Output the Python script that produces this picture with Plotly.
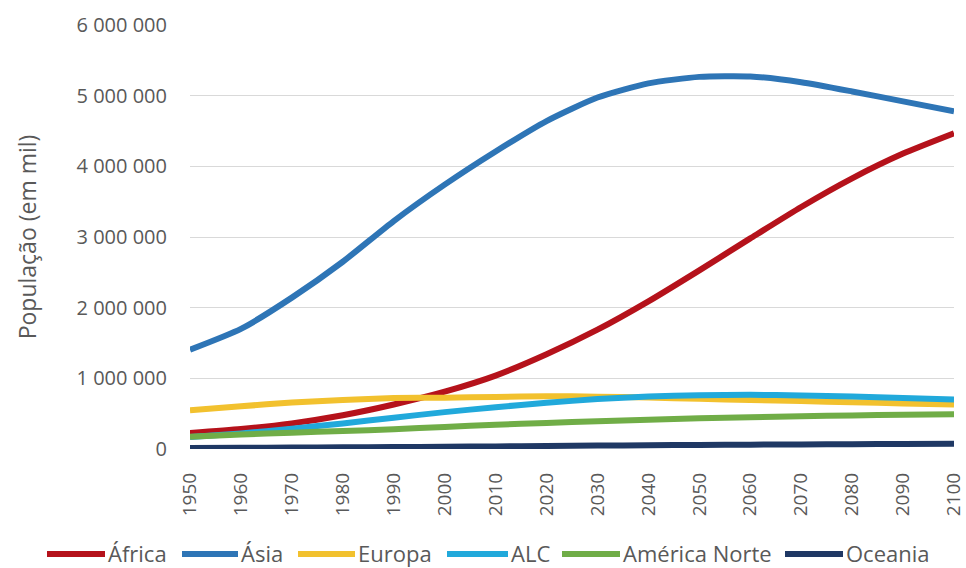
import plotly.graph_objects as go

# Population by region, thousands of people
years = [1950, 1960, 1970, 1980, 1990, 2000, 2010, 2020, 2030, 2040,
         2050, 2060, 2070, 2080, 2090, 2100]

africa = [228000, 283000, 363000, 478000, 630000, 811000, 1039000, 1341000,
          1688000, 2089000, 2528000, 2980000, 3425000, 3830000, 4180000, 4468000]
asia = [1405000, 1700000, 2142000, 2650000, 3226000, 3741000, 4210000, 4641000,
        4974000, 5174000, 5266000, 5272000, 5190000, 5060000, 4920000, 4780000]
europe = [549000, 605000, 657000, 694000, 721000, 726000, 736000, 748000,
          741000, 729000, 710000, 694000, 678000, 662000, 645000, 630000]
alc = [169000, 220000, 287000, 362000, 443000, 522000, 591000, 654000,
       706000, 743000, 762000, 766000, 758000, 743000, 721000, 700000]
north_america = [173000, 205000, 231000, 254000, 280000, 312000, 343000, 369000,
                 393000, 414000, 434000, 450000, 463000, 475000, 485000, 491000]
oceania = [13000, 16000, 20000, 23000, 27000, 31000, 37000, 43000,
           48000, 53000, 57000, 61000, 65000, 68000, 71000, 73000]

names = ["África", "Ásia", "Europa", "ALC", "América Norte", "Oceania"]
values_by_series = [africa, asia, europe, alc, north_america, oceania]
colors = ["#B5121B", "#2E75B6", "#F2C12E", "#21A9DB", "#70AD47", "#1F3864"]

y_ticks = [0, 1000000, 2000000, 3000000, 4000000, 5000000, 6000000]
y_tick_text = ["0", "1 000 000", "2 000 000", "3 000 000",
               "4 000 000", "5 000 000", "6 000 000"]

W, H = 966, 568
ML, MR, MT, MB = 190, 12, 25, 119
PW, PH = W - ML - MR, H - MT - MB

fig = go.Figure()
for name, values, color in zip(names, values_by_series, colors):
    fig.add_trace(go.Scatter(
        x=years, y=values, name=name, mode="lines",
        line=dict(color=color, width=6, shape="spline", smoothing=0.6),
        showlegend=False, cliponaxis=False,
    ))

# Legend drawn below the axis: a swatch line followed by the series name
swatch_px = [(47, 105), (182, 238), (298, 355), (447, 508), (562, 620), (785, 843)]
legend_y_px = 554


def px_x(px):
    return (px - ML) / PW


def px_y(py):
    return (H - MB - py) / PH


for (x0, x1), name, color in zip(swatch_px, names, colors):
    fig.add_shape(type="line", xref="paper", yref="paper",
                  x0=px_x(x0), x1=px_x(x1), y0=px_y(legend_y_px), y1=px_y(legend_y_px),
                  line=dict(color=color, width=6))
    fig.add_annotation(xref="paper", yref="paper", x=px_x(x1 + 2), y=px_y(legend_y_px - 1),
                       text=name, showarrow=False, xanchor="left", yanchor="middle",
                       borderpad=0,
                       font=dict(family="Open Sans, sans-serif",
                                 size=22, color="#595959"))

fig.update_layout(
    width=W, height=H,
    margin=dict(l=ML, r=MR, t=MT, b=MB, autoexpand=False),
    paper_bgcolor="white", plot_bgcolor="white",
    font=dict(family="Open Sans, sans-serif", color="#595959", size=15),
    showlegend=False,
    xaxis=dict(
        range=[1950, 2100], tickmode="array", tickvals=years,
        ticktext=[str(y) for y in years], tickangle=-90,
        showgrid=False, zeroline=False, showline=False,
        tickfont=dict(size=19, color="#595959"), ticks="",
        ticklabelstandoff=19, ticklabeloverflow="allow", automargin=False,
    ),
    yaxis=dict(
        range=[0, 6000000], tickmode="array", tickvals=y_ticks,
        ticktext=y_tick_text, showgrid=True, gridcolor="#D9D9D9", gridwidth=1,
        zeroline=False, showline=False, ticks="", automargin=False,
        tickfont=dict(size=20, color="#595959"), ticklabelstandoff=22,
        title=dict(text="População (em mil)", font=dict(size=23, color="#595959"),
                   standoff=33),
    ),
)

fig.write_html("out.html")
